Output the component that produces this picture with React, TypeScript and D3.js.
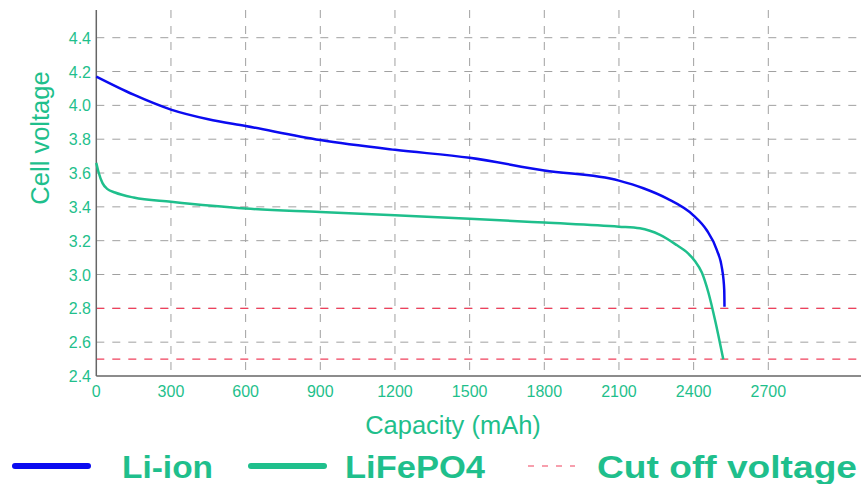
import React from "react";
import * as d3 from "d3";

const xTicks = [0, 300, 600, 900, 1200, 1500, 1800, 2100, 2400, 2700];
const yTicks = [2.4, 2.6, 2.8, 3.0, 3.2, 3.4, 3.6, 3.8, 4.0, 4.2, 4.4];
const cutOff = [2.8, 2.5];

const liIonCap = [0, 150, 300, 450, 600, 900, 1200, 1500, 1800, 2100, 2198, 2292, 2399, 2452, 2493, 2515, 2523, 2524];
const liIonV = [4.17, 4.063, 3.975, 3.918, 3.878, 3.795, 3.737, 3.69, 3.615, 3.555, 3.51, 3.45, 3.35, 3.263, 3.145, 3.027, 2.908, 2.81];

const lfpCap = [0, 10, 25, 45, 75, 150, 300, 600, 900, 1200, 1500, 1800, 2100, 2184, 2265, 2332, 2370, 2405, 2433, 2459, 2486, 2519];
const lfpV = [3.66, 3.6, 3.54, 3.505, 3.485, 3.455, 3.43, 3.39, 3.37, 3.35, 3.33, 3.307, 3.283, 3.273, 3.234, 3.174, 3.135, 3.08, 3.012, 2.895, 2.731, 2.499];

const GREEN = "#1fbf8c";
const BLUE = "#0b0bf0";
const RED = "#f0405c";
const GRID = "#a0a0a0";

export default function App() {
  const W = 861, H = 484;
  const x = d3.scaleLinear().domain([0, 2700]).range([96.3, 768.3]);
  const y = d3.scaleLinear().domain([2.4, 4.4]).range([376, 37.7]);
  const xMax = 861;
  const yTop = 10;

  const line = d3
    .line<[number, number]>()
    .x((d) => x(d[0]))
    .y((d) => y(d[1]))
    .curve(d3.curveMonotoneX);

  const liData: [number, number][] = liIonCap.map((c, i) => [c, liIonV[i]]);
  const lfpData: [number, number][] = lfpCap.map((c, i) => [c, lfpV[i]]);

  return (
    <svg
      width={W}
      height={H}
      style={{ position: "absolute", left: 0, top: 0, background: "#fff" }}
      fontFamily="Liberation Sans, Arial, sans-serif"
    >
      {xTicks.slice(1).map((t) => (
        <line key={"vx" + t} x1={x(t)} x2={x(t)} y1={yTop} y2={376} stroke={GRID} strokeWidth={1} strokeDasharray="8,8" />
      ))}
      {yTicks.slice(1).map((t) => (
        <line key={"hy" + t} x1={x(0)} x2={xMax} y1={y(t)} y2={y(t)} stroke={GRID} strokeWidth={1} strokeDasharray="8,8" />
      ))}
      {cutOff.map((v) => (
        <line key={"c" + v} x1={x(0)} x2={xMax} y1={y(v)} y2={y(v)} stroke={RED} strokeWidth={1.2} strokeDasharray="8,8" />
      ))}
      <line x1={x(0)} x2={x(0)} y1={yTop} y2={y(2.4)} stroke="#666" strokeWidth={1.5} />
      <line x1={x(0)} x2={xMax} y1={y(2.4)} y2={y(2.4)} stroke="#666" strokeWidth={1.5} />
      <path d={line(lfpData) || ""} fill="none" stroke={GREEN} strokeWidth={2.5} />
      <path d={line(liData) || ""} fill="none" stroke={BLUE} strokeWidth={2.5} />
      {yTicks.map((t) => (
        <text key={"yl" + t} x={91} y={y(t) + 6} textAnchor="end" fontSize={16} fill={GREEN}>
          {t.toFixed(1)}
        </text>
      ))}
      {xTicks.map((t) => (
        <text key={"xl" + t} x={x(t)} y={397} textAnchor="middle" fontSize={16} fill={GREEN}>
          {t}
        </text>
      ))}
      <text x={453} y={434} textAnchor="middle" fontSize={25.5} fill={GREEN}>
        Capacity (mAh)
      </text>
      <text transform="translate(49,138) rotate(-90)" textAnchor="middle" fontSize={25.5} fill={GREEN}>
        Cell voltage
      </text>
      <line x1={15} x2={88} y1={466} y2={466} stroke={BLUE} strokeWidth={6} strokeLinecap="round" />
      <text x={122} y={478} fontSize={31} fontWeight="bold" fill={GREEN} textLength={91} lengthAdjust="spacingAndGlyphs">
        Li-ion
      </text>
      <line x1={251} x2={324} y1={466} y2={466} stroke={GREEN} strokeWidth={6} strokeLinecap="round" />
      <text x={345} y={478} fontSize={31} fontWeight="bold" fill={GREEN} textLength={140} lengthAdjust="spacingAndGlyphs">
        LiFePO4
      </text>
      <line x1={528} x2={575} y1={466} y2={466} stroke={RED} strokeWidth={1.2} strokeDasharray="6,8" />
      <text x={597} y={478} fontSize={31} fontWeight="bold" fill={GREEN} textLength={260} lengthAdjust="spacingAndGlyphs">
        Cut off voltage
      </text>
    </svg>
  );
}
